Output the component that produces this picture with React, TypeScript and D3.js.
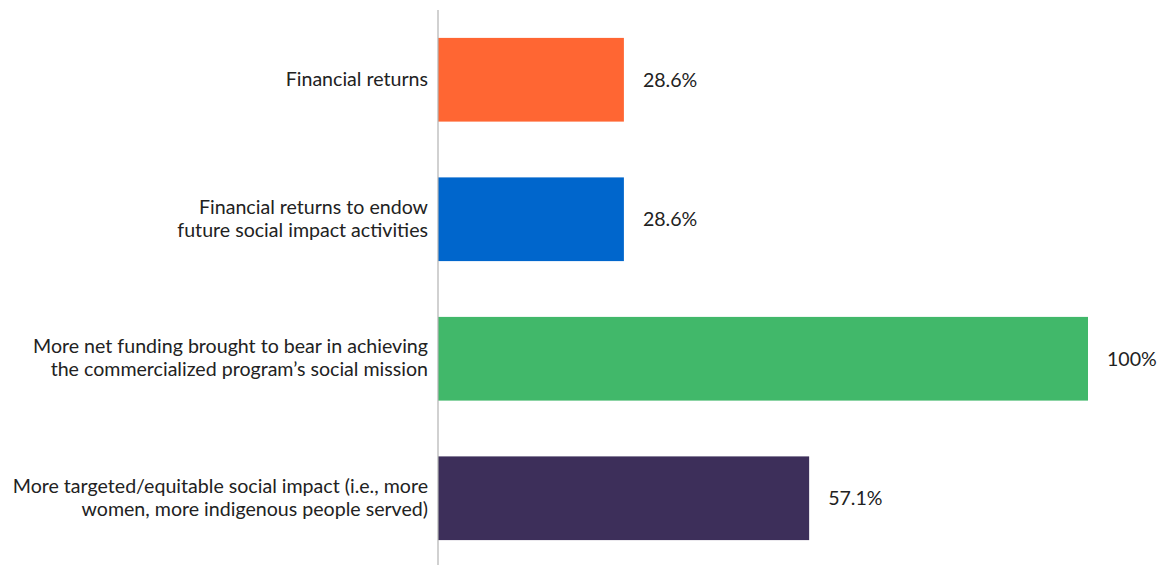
import React from "react";
import * as d3 from "d3";

const categories: string[][] = [
  ["Financial returns"],
  ["Financial returns to endow", "future social impact activities"],
  ["More net funding brought to bear in achieving", "the commercialized program’s social mission"],
  ["More targeted/equitable social impact (i.e., more", "women, more indigenous people served)"],
];
const values: number[] = [28.6, 28.6, 100, 57.1];
const valueLabels: string[] = ["28.6%", "28.6%", "100%", "57.1%"];
const colors: string[] = ["#FF6633", "#0066CC", "#41B86A", "#3D2F5A"];

const W = 1165;
const H = 565;
const x0 = 438;

export default function App() {
  const x = d3.scaleLinear().domain([0, 100]).range([x0, 1088]);
  const y = d3
    .scaleBand<number>()
    .domain(values.map((_, i) => i))
    .range([10, 568])
    .paddingInner(0.4)
    .paddingOuter(0.2);
  const font = "Lato, 'Noto Sans', sans-serif";
  const fs = 19.6;
  return (
    <svg
      width={W}
      height={H}
      style={{ position: "absolute", left: 0, top: 0, background: "#fff" }}
      fontFamily={font}
    >
      {values.map((v, i) => {
        const yy = y(i)!;
        const bw = y.bandwidth();
        const cy = yy + bw / 2;
        const lines = categories[i];
        const lh = 23;
        return (
          <g key={i}>
            <rect x={x(0)} y={yy} width={x(v) - x(0)} height={bw} fill={colors[i]} />
            <text x={x(v) + 19} y={cy} dy="0.35em" fontSize={fs} fill="#222">
              {valueLabels[i]}
            </text>
            <text textAnchor="end" fontSize={fs} fill="#222">
              {lines.map((l, j) => (
                <tspan key={j} x={428} y={cy - 1 + (j - (lines.length - 1) / 2) * lh} dy="0.35em">
                  {l}
                </tspan>
              ))}
            </text>
          </g>
        );
      })}
      <line x1={x0} x2={x0} y1={10} y2={568} stroke="#b3b3b3" strokeWidth={1.2} />
    </svg>
  );
}
